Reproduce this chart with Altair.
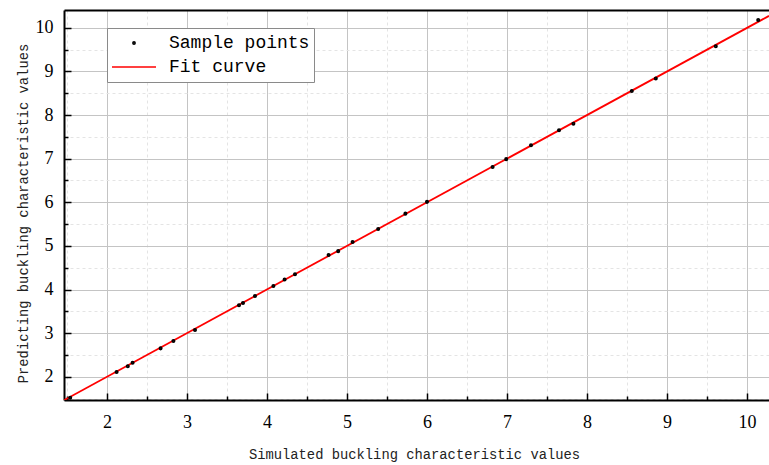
import altair as alt
import pandas as pd

# Sample points
sim_x = [1.54, 2.12, 2.26, 2.32, 2.67, 2.83, 3.10, 3.65, 3.70, 3.85, 4.08, 4.22,
         4.35, 4.77, 4.89, 5.07, 5.39, 5.73, 6.00, 6.82, 6.99, 7.30, 7.65, 7.83,
         8.56, 8.86, 9.61, 10.14]
pred_y = [1.52, 2.11, 2.24, 2.32, 2.65, 2.82, 3.07, 3.64, 3.69, 3.85, 4.08, 4.23,
          4.35, 4.79, 4.88, 5.09, 5.39, 5.74, 6.01, 6.81, 6.99, 7.31, 7.65, 7.80,
          8.55, 8.84, 9.58, 10.18]
# Fit curve end points
fit_x = [1.4625, 10.275]
fit_y = [1.4625, 10.275]

series_names = ["Sample points", "Fit curve"]
x_ticks = [1.5, 2, 2.5, 3, 3.5, 4, 4.5, 5, 5.5, 6, 6.5, 7, 7.5, 8, 8.5, 9, 9.5, 10]
y_ticks = [1.5, 2, 2.5, 3, 3.5, 4, 4.5, 5, 5.5, 6, 6.5, 7, 7.5, 8, 8.5, 9, 9.5, 10]
x_domain = [1.4625, 10.275]
y_domain = [1.466, 10.41]

pts = pd.DataFrame({"x": sim_x, "y": pred_y, "series": series_names[0]})
fit = pd.DataFrame({"x": fit_x, "y": fit_y, "series": series_names[1]})

minor = "datum.value % 1 !== 0"
common_axis = dict(
    labelFont="Liberation Serif", labelFontSize=18, labelColor="black",
    labelExpr="datum.value % 1 ? '' : format(datum.value, 'd')",
    grid=True,
    gridColor={"condition": {"test": minor, "value": "#e4e4e4"}, "value": "#c4c4c4"},
    gridDash={"condition": {"test": minor, "value": [3, 3]}, "value": []},
    gridWidth=1,
    ticks=True, tickColor="black", tickWidth=1.5,
    tickSize={"condition": {"test": minor, "value": -4}, "value": -7},
    domain=True, domainColor="black", domainWidth=2,
    titleFont="Liberation Mono", titleFontSize=13.8, titleFontWeight="normal",
    titleColor="#222222",
)

x_axis = alt.Axis(values=x_ticks, labelPadding=20,
                  title="Simulated buckling characteristic values",
                  titleX=350, titleY=58, titleBaseline="alphabetic",
                  titleAlign="center", **common_axis)
y_axis = alt.Axis(values=y_ticks, labelPadding=18,
                  title="Predicting buckling characteristic values",
                  titleX=-37, titleY=203, titleAngle=270, titleBaseline="alphabetic",
                  titleAlign="center", **common_axis)
top_axis = alt.Axis(orient="top", labels=False, ticks=False, grid=False,
                    domain=True, domainColor="black", domainWidth=2, title=None)

legend = alt.Legend(
    title=None, orient="none", legendX=43, legendY=18, direction="vertical",
    labelFont="Liberation Mono", labelFontSize=18, labelColor="black",
    strokeColor="#8a8a8a", fillColor="white", padding=4, clipHeight=22,
    rowPadding=2, labelOffset=12, symbolStrokeWidth=1.6, symbolOpacity=1,
)
color_scale = alt.Scale(domain=series_names, range=["black", "#ff0000"])
shape_scale = alt.Scale(domain=series_names, range=["circle", "stroke"])
size_scale = alt.Scale(domain=series_names, range=[5, 1936])

xs = alt.Scale(domain=x_domain, nice=False, zero=False)
ys = alt.Scale(domain=y_domain, nice=False, zero=False)

line = alt.Chart(fit).mark_line(strokeWidth=1.8, clip=True).encode(
    x=alt.X("x:Q", scale=xs, axis=top_axis),
    y=alt.Y("y:Q", scale=ys, axis=y_axis),
    color=alt.Color("series:N", scale=color_scale, legend=legend),
)
points = alt.Chart(pts).mark_point(filled=False, strokeWidth=1.8, opacity=1).encode(
    x=alt.X("x:Q", scale=xs, axis=x_axis),
    y=alt.Y("y:Q", scale=ys, axis=y_axis),
    color=alt.Color("series:N", scale=color_scale, legend=legend),
    shape=alt.Shape("series:N", scale=shape_scale, legend=legend),
    size=alt.Size("series:N", scale=size_scale, legend=legend),
)

chart = alt.layer(line, points).resolve_axis(x="independent").properties(
    width=705, height=390,
    padding={"left": 64, "top": 10, "right": 0, "bottom": 65},
    autosize=alt.AutoSizeParams(type="none"),
    background="white",
).configure_view(stroke=None)

chart.save("out.html", embed_options={"renderer": "svg", "actions": False})
